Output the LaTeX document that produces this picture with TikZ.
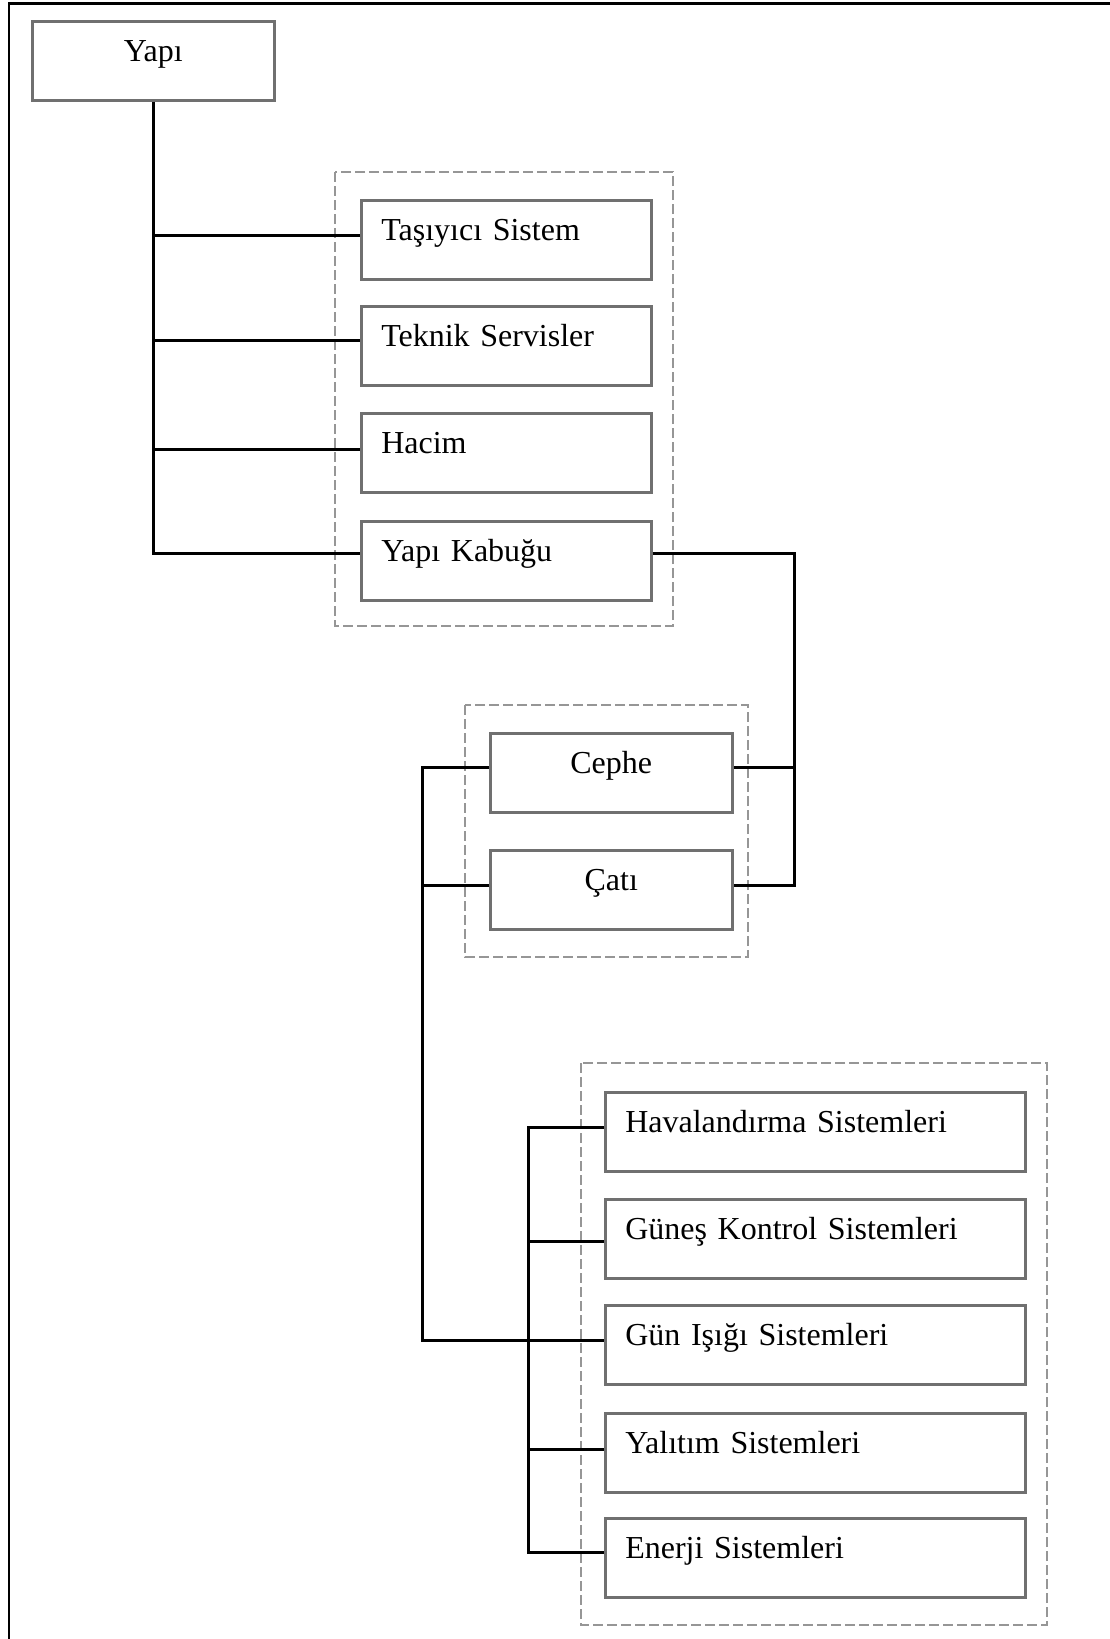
\documentclass[tikz,border=0pt]{standalone}
\usepackage{fontspec}
\setmainfont{Liberation Serif}
\definecolor{boxgray}{RGB}{112,112,112}
\definecolor{dashgray}{RGB}{150,150,150}
\begin{document}
\begin{tikzpicture}[x=1pt,y=-1pt,
  every node/.style={font=\fontsize{32}{38}\selectfont},
  basebox/.style={draw=boxgray, line width=2.5pt, anchor=north west, inner ysep=0pt,
     text height=40pt, text depth=39pt, inner xsep=20pt},
  leftbox/.style={basebox, align=left, text width=#1},
  midbox/.style={basebox, align=center, text width=#1},
  grp/.style={draw=dashgray, line width=2.5pt, dash pattern=on 10pt off 4pt},
  link/.style={draw=black, line width=3pt}]
\useasboundingbox (0,0) rectangle (1110,1639);
% outer frame (left and top edges)
\draw[line width=2.5pt] (9,1639) -- (9,3.5) -- (1110,3.5);

% dashed groups
\draw[grp] (335,172) rectangle (673,626);
\draw[grp] (465,705) rectangle (748,957);
\draw[grp] (581,1063) rectangle (1047,1625);

% boxes
\node[midbox=202pt] (yapi) at (31,20) {Yapı};

\node[leftbox=250pt] (tas) at (360,199) {Taşıyıcı Sistem};
\node[leftbox=250pt] (tek) at (360,305) {Teknik Servisler};
\node[leftbox=250pt] (hac) at (360,412) {Hacim};
\node[leftbox=250pt] (kab) at (360,520) {Yapı Kabuğu};

\node[midbox=202pt] (cep) at (489,732) {Cephe};
\node[midbox=202pt] (cat) at (489,849) {Çatı};

\node[leftbox=380pt] (hav) at (604,1091) {Havalandırma Sistemleri};
\node[leftbox=380pt] (gkn) at (604,1198) {Güneş Kontrol Sistemleri};
\node[leftbox=380pt] (gun) at (604,1304) {Gün Işığı Sistemleri};
\node[leftbox=380pt] (yal) at (604,1412) {Yalıtım Sistemleri};
\node[leftbox=380pt] (ene) at (604,1517) {Enerji Sistemleri};

% bus x positions
\coordinate (rbus) at (794,0);
\coordinate (lbus) at (422,0);
\coordinate (ibus) at (528,0);

% Yapı tree
\draw[link] (yapi.south) |- ([yshift=7.5pt]kab.west);
\draw[link] ([yshift=4.5pt]tas.west -| yapi.south) -- ([yshift=4.5pt]tas.west);
\draw[link] ([yshift=5.5pt]tek.west -| yapi.south) -- ([yshift=5.5pt]tek.west);
\draw[link] ([yshift=3.5pt]hac.west -| yapi.south) -- ([yshift=3.5pt]hac.west);

% Yapı Kabuğu to Cephe / Çatı
\draw[link] ([yshift=7.5pt]kab.east) -- ([yshift=7.5pt]kab.east -| rbus) |- ([yshift=4.5pt]cat.east);
\draw[link] ([yshift=5.5pt]cep.east) -- ([yshift=5.5pt]cep.east -| rbus);

% Cephe / Çatı to Gün Işığı
\draw[link] ([yshift=5.5pt]cep.west) -- ([yshift=5.5pt]cep.west -| lbus) |- ([yshift=4pt]gun.west);
\draw[link] ([yshift=4.5pt]cat.west) -- ([yshift=4.5pt]cat.west -| lbus);

% inner bus for the systems
\draw[link] ([yshift=4.5pt]hav.west) -- ([yshift=4.5pt]hav.west -| ibus) |- ([yshift=5pt]ene.west);
\draw[link] ([yshift=-3pt]gkn.west) -- ([yshift=-3pt]gkn.west -| ibus);
\draw[link] ([yshift=3.5pt]yal.west) -- ([yshift=3.5pt]yal.west -| ibus);
\end{tikzpicture}
\end{document}
